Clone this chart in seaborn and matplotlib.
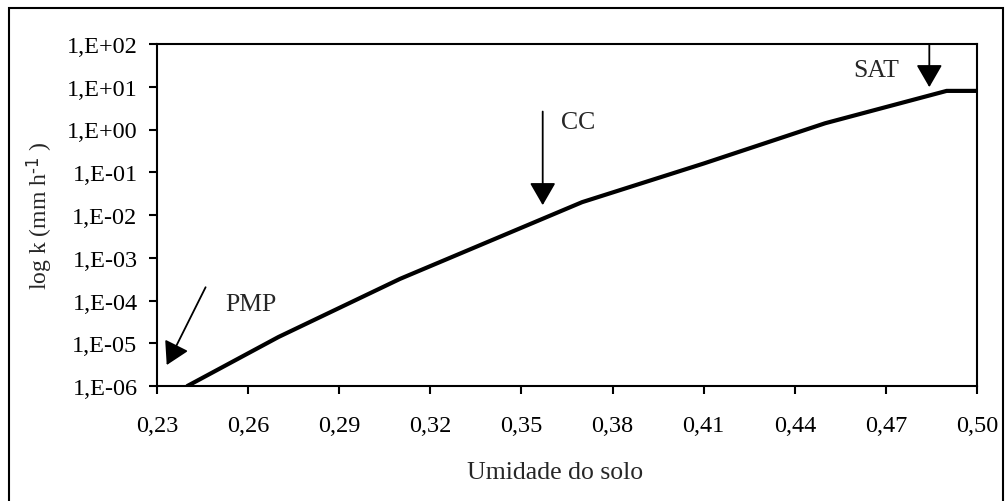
import numpy as np
import pandas as pd
import matplotlib
matplotlib.use("Agg")
import matplotlib.pyplot as plt
import matplotlib.ticker as mticker
from matplotlib.patches import Rectangle
import seaborn as sns

# curve values
umidade = [0.24, 0.27, 0.31, 0.37, 0.41, 0.45, 0.49, 0.50]
k_vals = [1.0e-6, 1.4e-5, 3.2e-4, 2.0e-2, 1.6e-1, 1.4, 8.0, 8.0]

x_ticks = [0.23, 0.26, 0.29, 0.32, 0.35, 0.38, 0.41, 0.44, 0.47, 0.50]
x_labels = ["0,23", "0,26", "0,29", "0,32", "0,35", "0,38", "0,41", "0,44", "0,47", "0,50"]
y_exps = [-6, -5, -4, -3, -2, -1, 0, 1, 2]

df = pd.DataFrame({"umidade": umidade, "k": k_vals})

sns.set_style("ticks")
plt.rcParams["font.family"] = ["Liberation Serif", "DejaVu Serif"]
plt.rcParams["mathtext.default"] = "regular"

fig = plt.figure(figsize=(10.05, 5.02), dpi=100)
ax = fig.add_axes([157 / 1005, 1 - 387 / 502, 820 / 1005, 342 / 502])
ax.set_yscale("log")

sns.lineplot(data=df, x="umidade", y="k", color="black", linewidth=3, ax=ax)

ax.set_xlim(0.23, 0.50)
ax.set_ylim(1e-6, 1e2)
ax.xaxis.set_major_locator(mticker.FixedLocator(x_ticks))
ax.set_xticklabels(x_labels)
ax.yaxis.set_major_locator(mticker.FixedLocator([10.0 ** e for e in y_exps]))
ax.yaxis.set_minor_locator(mticker.NullLocator())
ax.set_yticklabels([f"1,E{e:+03d}" for e in y_exps])

for s in ax.spines.values():
    s.set_linewidth(1.5)
    s.set_color("black")
ax.tick_params(axis="both", direction="out", length=6, width=1.5, colors="black",
               labelsize=17.5)
ax.tick_params(axis="x", pad=15)
ax.tick_params(axis="y", pad=8)

ax.set_xlabel("")
ax.set_ylabel("")
ax.text(0.485, -0.252, "Umidade do solo", transform=ax.transAxes,
        ha="center", va="center", fontsize=18.5)
ax.text(-0.143, 0.5, r"log k (mm h$^{\text{-1}}$ )", transform=ax.transAxes,
        rotation=90, ha="center", va="center", fontsize=17)

arrow = dict(arrowstyle="-|>,head_length=0.45,head_width=0.26", color="black",
             lw=1.3, mutation_scale=31, shrinkA=0, shrinkB=0)
ax.annotate("", xy=(0.2332, 10 ** -5.51), xytext=(0.246, 10 ** -3.69),
            arrowprops=arrow)
ax.annotate("", xy=(0.357, 10 ** -1.77), xytext=(0.357, 10 ** 0.42),
            arrowprops=arrow)
ax.annotate("", xy=(0.4843, 10 ** 0.99), xytext=(0.4843, 1e2),
            arrowprops=arrow)

ax.text(0.2524, 10 ** -4.08, "PMP", ha="left", va="center", fontsize=18.5)
ax.text(0.3630, 10 ** 0.17, "CC", ha="left", va="center", fontsize=18.5)
ax.text(0.4592, 10 ** 1.39, "SAT", ha="left", va="center", fontsize=18.5)

# outer frame around the chart
fig.patches.append(Rectangle((8.5 / 1005, -0.02), 994.5 / 1005, 1.02 - 8.5 / 502,
                             transform=fig.transFigure, fill=False,
                             edgecolor="black", linewidth=1.5))

fig.savefig("out.png", dpi=100)
